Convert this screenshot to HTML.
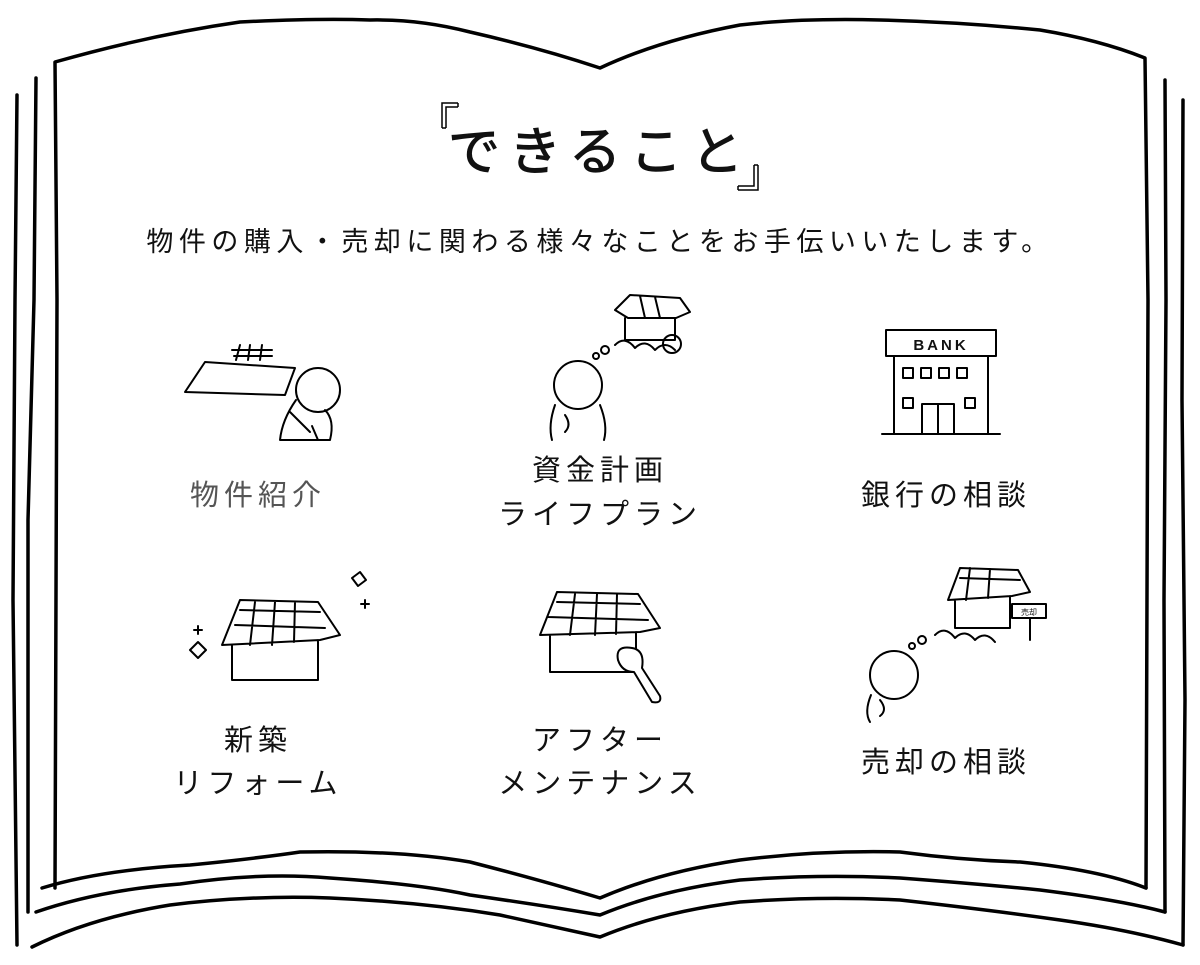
<!DOCTYPE html>
<html><head><meta charset="utf-8"><style>
html,body{margin:0;padding:0;background:#fff;}
svg{display:block}
text{font-family:"Liberation Sans","Noto Sans CJK JP",sans-serif;fill:#111}
</style></head><body>
<svg width="1200" height="965" viewBox="0 0 1200 965" xmlns="http://www.w3.org/2000/svg">
<g fill="none" stroke="#000" stroke-width="3.5" stroke-linecap="round" stroke-linejoin="round">
<path d="M55,888 L57,300 L55,62 Q150,35 240,22 Q320,18 370,20 Q420,19 470,32 Q540,48 600,68 Q660,40 740,25 Q800,18 880,20 Q960,22 1040,30 Q1100,40 1145,58 L1148,300 L1146,888"/>
<path d="M42,888 Q100,870 190,865 Q260,858 300,852 Q400,850 470,862 Q540,880 600,898 Q660,872 740,860 Q820,850 900,852 Q960,860 1020,862 Q1100,870 1146,888"/>
<path d="M36,912 Q100,890 180,884 Q260,872 330,878 Q420,884 470,895 Q540,905 600,915 Q660,890 740,880 Q820,874 900,878 Q980,884 1040,890 Q1120,900 1165,912"/>
<path d="M32,947 Q90,918 170,905 Q250,895 330,898 Q420,902 500,915 Q560,928 600,937 Q660,912 740,902 Q820,896 900,900 Q990,910 1060,920 Q1130,930 1183,945"/>
<path d="M36,78 L34,300 L28,520 L28,912"/>
<path d="M17,95 L15,300 L13,600 L17,945"/>
<path d="M1165,80 L1166,300 L1164,600 L1165,912"/>
<path d="M1183,100 L1182,400 L1185,700 L1183,945"/>
</g>
<g fill="none" stroke="#000" stroke-width="1.5">
<path d="M442,128 L442,103 L458,103 M446,128 L446,107 L458,107 M442,128 L446,128 M458,103 L458,107"/>
<path d="M758,165 L758,190 L738,190 M754,165 L754,186 L738,186 M754,165 L758,165 M738,186 L738,190"/>
</g>
<text x="600" y="170" font-size="52" text-anchor="middle" font-weight="normal" letter-spacing="9" style="stroke:#111;stroke-width:1">できること</text>
<text x="600" y="251" font-size="27" text-anchor="middle" letter-spacing="5.5">物件の購入・売却に関わる様々なことをお手伝いいたします。</text>
<text x="258" y="505" font-size="29" text-anchor="middle" letter-spacing="5" style="fill:#555">物件紹介</text>
<text x="600" y="480" font-size="29" text-anchor="middle" letter-spacing="5">資金計画</text>
<text x="600" y="524" font-size="29" text-anchor="middle" letter-spacing="5">ライフプラン</text>
<text x="946" y="505" font-size="29" text-anchor="middle" letter-spacing="5">銀行の相談</text>
<text x="258" y="750" font-size="29" text-anchor="middle" letter-spacing="5">新築</text>
<text x="258" y="793" font-size="29" text-anchor="middle" letter-spacing="5">リフォーム</text>
<text x="600" y="750" font-size="29" text-anchor="middle" letter-spacing="5">アフター</text>
<text x="600" y="793" font-size="29" text-anchor="middle" letter-spacing="5">メンテナンス</text>
<text x="946" y="772" font-size="29" text-anchor="middle" letter-spacing="5">売却の相談</text>
<g fill="none" stroke="#000" stroke-width="2" stroke-linecap="round" stroke-linejoin="round">
<path d="M185,392 L205,362 L295,368 L285,395 Z M236,360 L240,345 M248,360 L250,345 M260,360 L262,345 M232,350 L272,350 M234,356 L272,356"/>
<circle cx="318" cy="390" r="22" fill="#fff"/>
<path d="M296,400 Q282,420 280,440 L330,440 Q335,420 325,410 M290,412 L310,432 M312,426 L318,440"/>
<circle cx="578" cy="385" r="24"/>
<path d="M555,405 Q548,425 552,440 M600,405 Q608,425 604,440 M565,415 Q572,425 565,432"/>
<circle cx="596" cy="356" r="3"/><circle cx="605" cy="350" r="4"/>
<path d="M615,345 Q625,335 635,348 Q645,338 655,350 Q665,340 675,350"/>
<path d="M615,310 L630,295 L680,298 L690,312 L676,318 L628,318 Z M625,318 L625,340 L675,340 L675,318 M640,296 L645,318 M655,297 L660,318"/>
<circle cx="672" cy="344" r="9"/>
<rect x="886" y="330" width="110" height="26"/>
<rect x="894" y="356" width="94" height="78"/>
<path d="M882,434 L1000,434 M922,404 L922,434 M938,404 L938,434 M922,404 L954,404 L954,434"/>
<rect x="903" y="368" width="10" height="10"/><rect x="921" y="368" width="10" height="10"/><rect x="939" y="368" width="10" height="10"/><rect x="957" y="368" width="10" height="10"/>
<rect x="903" y="398" width="10" height="10"/><rect x="965" y="398" width="10" height="10"/>
<path d="M222,645 L240,600 L318,602 L340,635 L320,640 Z M232,645 L232,680 L318,680 L318,640 M240,610 L320,612 M235,625 L325,628 M255,602 L250,645 M275,602 L272,645 M295,602 L294,642"/>
<path d="M190,650 L198,642 L206,650 L198,658 Z M352,578 L360,572 L366,580 L358,586 Z M198,626 L198,634 M194,630 L202,630 M365,600 L365,608 M361,604 L369,604"/>
<path d="M540,635 L557,592 L638,594 L660,628 L640,632 Z M550,635 L550,672 L636,672 L636,632 M557,602 L640,604 M548,617 L648,620 M575,594 L570,635 M597,594 L595,635 M617,594 L616,634"/>
<path d="M618,660 Q615,645 632,648 Q645,650 642,668 L660,696 Q662,704 652,702 L634,672 Q622,672 618,660 Z" fill="#fff"/>
<circle cx="894" cy="675" r="24"/>
<path d="M871,695 Q864,712 870,722 M880,700 Q888,710 880,716"/>
<circle cx="912" cy="646" r="3"/><circle cx="922" cy="640" r="4"/>
<path d="M935,635 Q945,625 955,638 Q965,628 975,640 Q985,630 995,642"/>
<path d="M948,600 L960,568 L1018,570 L1030,592 L1012,596 Z M955,600 L955,628 L1010,628 L1010,596 M960,578 L1020,580 M970,568 L966,600 M990,569 L988,598"/>
<rect x="1012" y="604" width="34" height="14"/>
<path d="M1030,618 L1030,640"/>
</g>
<text x="1029" y="615" font-size="8" text-anchor="middle">売却</text>
<text x="941" y="350" font-size="15" text-anchor="middle" font-weight="bold" letter-spacing="3">BANK</text>
</svg>
</body></html>
